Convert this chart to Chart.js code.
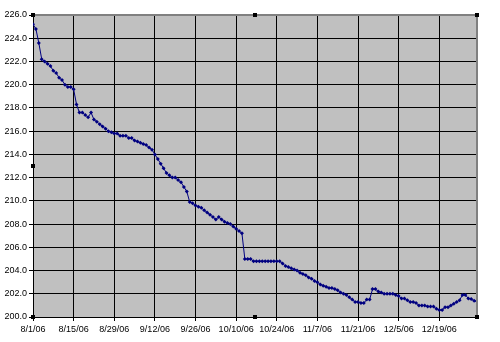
<!DOCTYPE html>
<html>
<head>
<meta charset="utf-8">
<script src="https://cdn.jsdelivr.net/npm/chart.js@4.4.1/dist/chart.umd.min.js"></script>
<style>
  html, body { margin: 0; padding: 0; background: #fff; }
  #wrap { width: 500px; height: 342px; }
</style>
</head>
<body>
<div id="wrap"><canvas id="weight"></canvas></div>
<script>
// daily readings, 8/1/06 .. 1/1/07
const weights = [
  225.2, 224.8, 223.6, 222.2, 222.0, 221.8, 221.6, 221.2, 221.0, 220.6,
  220.4, 220.0, 219.8, 219.8, 219.6, 218.3, 217.6, 217.6, 217.4, 217.2,
  217.6, 217.0, 216.8, 216.6, 216.4, 216.2, 216.0, 215.9, 215.8, 215.8,
  215.6, 215.6, 215.6, 215.4, 215.4, 215.2, 215.1, 215.0, 214.9, 214.8,
  214.6, 214.4, 214.0, 213.6, 213.2, 212.8, 212.4, 212.2, 212.0, 212.0,
  211.8, 211.6, 211.2, 210.8, 209.9, 209.8, 209.6, 209.5, 209.4, 209.2,
  209.0, 208.8, 208.6, 208.4, 208.6, 208.4, 208.2, 208.1, 208.0, 207.8,
  207.6, 207.4, 207.2, 205.0, 205.0, 205.0, 204.8, 204.8, 204.8, 204.8,
  204.8, 204.8, 204.8, 204.8, 204.8, 204.8, 204.6, 204.4, 204.3, 204.2,
  204.1, 204.0, 203.8, 203.7, 203.6, 203.4, 203.3, 203.1, 203.0, 202.8,
  202.7, 202.6, 202.5, 202.5, 202.4, 202.3, 202.1, 202.0, 201.9, 201.7,
  201.5, 201.3, 201.3, 201.2, 201.2, 201.5, 201.5, 202.4, 202.4, 202.2,
  202.1, 202.0, 202.0, 202.0, 202.0, 201.9, 201.8, 201.6, 201.6, 201.45,
  201.3, 201.3, 201.2, 201.0, 201.0, 201.0, 200.9, 200.9, 200.9, 200.7,
  200.6, 200.6, 200.85, 200.85, 201.0, 201.15, 201.3, 201.45, 201.9, 201.9,
  201.6, 201.55, 201.4, 201.35
];
const xTickDays = [0, 14, 28, 42, 56, 70, 84, 98, 112, 126, 140];
const xTickLabels = ['8/1/06', '8/15/06', '8/29/06', '9/12/06', '9/26/06', '10/10/06',
  '10/24/06', '11/7/06', '11/21/06', '12/5/06', '12/19/06'];

const points = weights.map((w, i) => ({ x: i, y: w }));

const plotFrame = {
  id: 'plotFrame',
  beforeDraw(chart) {
    const { ctx, chartArea: a } = chart;
    ctx.save();
    ctx.fillStyle = '#c0c0c0';
    ctx.fillRect(a.left, a.top, a.right - a.left, a.bottom - a.top);
    ctx.restore();
  },
  afterDatasetsDraw(chart) {
    const { ctx, chartArea: a } = chart;
    ctx.save();
    ctx.strokeStyle = '#808080';
    ctx.lineWidth = 2;
    ctx.beginPath();
    ctx.moveTo(a.left, a.top);
    ctx.lineTo(a.right, a.top);
    ctx.lineTo(a.right, a.bottom);
    ctx.stroke();
    // selection handles
    ctx.fillStyle = '#000';
    const mx = (a.left + a.right) / 2, my = (a.top + a.bottom) / 2;
    [[a.left, a.top], [mx, a.top], [a.right, a.top], [a.left, my],
     [a.right, a.bottom], [mx, a.bottom], [a.left, a.bottom]].forEach(([x, y]) => {
      ctx.fillRect(x - 2, y - 2, 4, 4);
    });
    ctx.restore();
  }
};

new Chart(document.getElementById('weight'), {
  type: 'line',
  data: {
    datasets: [{
      data: points,
      borderColor: '#000080',
      backgroundColor: '#000080',
      borderWidth: 1,
      pointStyle: 'rectRot',
      pointRadius: 2,
      pointBorderWidth: 0,
      tension: 0
    }]
  },
  options: {
    responsive: true,
    maintainAspectRatio: false,
    animation: false,
    layout: { padding: { top: 15, right: 23, left: 0, bottom: 0 } },
    plugins: { legend: { display: false }, tooltip: { enabled: false } },
    scales: {
      x: {
        type: 'linear',
        min: 0,
        max: weights.length - 1,
        afterBuildTicks: (scale) => { scale.ticks = xTickDays.map(v => ({ value: v })); },
        afterFit: (scale) => { scale.height = 25; },
        ticks: {
          autoSkip: false,
          maxRotation: 0,
          padding: 3,
          color: '#000',
          font: { family: 'Liberation Sans', size: 9 },
          callback: (v) => xTickLabels[xTickDays.indexOf(v)]
        },
        grid: { color: '#000', lineWidth: 1, tickLength: 4 },
        border: { color: '#000', width: 1 }
      },
      y: {
        min: 200,
        max: 226,
        afterFit: (scale) => { scale.width = 33; },
        ticks: {
          stepSize: 2,
          padding: 2,
          color: '#000',
          font: { family: 'Liberation Sans', size: 9 },
          callback: (v) => v.toFixed(1)
        },
        grid: { color: '#000', lineWidth: 1, tickLength: 4 },
        border: { color: '#000', width: 1 }
      }
    }
  },
  plugins: [plotFrame]
});
</script>
</body>
</html>
